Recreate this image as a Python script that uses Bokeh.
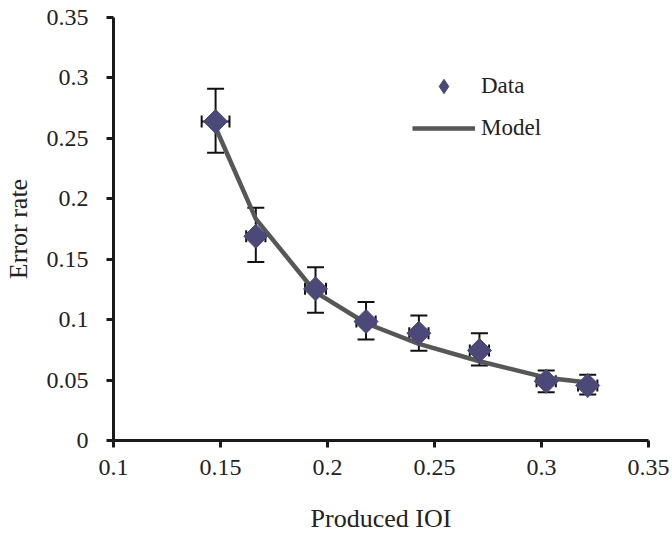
import math
from bokeh.plotting import figure
from bokeh.models import (ColumnDataSource, Range1d, FixedTicker, Whisker, TeeHead,
                          Legend, LegendItem)
from bokeh.embed import file_html
from bokeh.resources import INLINE

# data
ioi = [0.1477, 0.1665, 0.1944, 0.2180, 0.2427, 0.2710, 0.3022, 0.3216]
err = [0.264, 0.169, 0.1255, 0.0985, 0.0888, 0.0745, 0.049, 0.0455]
err_hi = [0.291, 0.1925, 0.1434, 0.1145, 0.1034, 0.0888, 0.058, 0.0544]
err_lo = [0.238, 0.1476, 0.1057, 0.0836, 0.0742, 0.062, 0.040, 0.038]
ioi_lo = [0.1412, 0.1620, 0.1895, 0.2135, 0.2382, 0.2665, 0.2977, 0.3171]
ioi_hi = [0.1542, 0.1710, 0.1993, 0.2225, 0.2472, 0.2755, 0.3067, 0.3261]
model = [0.259, 0.1834, 0.1227, 0.097, 0.080, 0.0656, 0.052, 0.048]

x_ticks = [0.1, 0.15, 0.2, 0.25, 0.3, 0.35]
x_labels = ["0.1", "0.15", "0.2", "0.25", "0.3", "0.35"]
y_ticks = [0, 0.05, 0.1, 0.15, 0.2, 0.25, 0.3, 0.35]
y_labels = ["0", "0.05", "0.1", "0.15", "0.2", "0.25", "0.3", "0.35"]

FONT = "Liberation Serif"
DIAMOND = "#4b4978"

src = ColumnDataSource(dict(x=ioi, y=err, yh=err_hi, yl=err_lo, xl=ioi_lo, xh=ioi_hi, m=model))

p = figure(width=672, height=535, output_backend="svg", toolbar_location=None,
           x_range=Range1d(0.1, 0.35), y_range=Range1d(0, 0.35),
           min_border_left=113, min_border_right=24, min_border_top=17, min_border_bottom=95)
p.outline_line_color = None
p.xgrid.grid_line_color = None
p.ygrid.grid_line_color = None
p.background_fill_color = "white"
p.border_fill_color = "white"

for ax, ticks, labels in ((p.xaxis[0], x_ticks, x_labels), (p.yaxis[0], y_ticks, y_labels)):
    ax.ticker = FixedTicker(ticks=ticks)
    ax.major_label_overrides = {t: l for t, l in zip(ticks, labels)}
    ax.axis_line_width = 3
    ax.axis_line_color = "#1a1a1a"
    ax.major_tick_line_width = 3
    ax.major_tick_line_color = "#1a1a1a"
    ax.major_tick_out = 7
    ax.major_tick_in = 0
    ax.minor_tick_line_color = None
    ax.major_label_text_font = FONT
    ax.major_label_text_font_size = "24px"
    ax.major_label_text_color = "#222222"
    ax.axis_label_text_font = FONT
    ax.axis_label_text_font_size = "26px"
    ax.axis_label_text_font_style = "normal"
    ax.axis_label_text_color = "#222222"

p.xaxis.axis_label = "Produced IOI"
p.yaxis.axis_label = "Error rate"
p.xaxis.major_label_standoff = 12
p.yaxis.major_label_standoff = 18
p.xaxis.axis_label_standoff = 26
p.yaxis.axis_label_standoff = 11

# model line
line_r = p.line("x", "m", source=src, line_color="#575757", line_width=4.5)

# error bars
p.add_layout(Whisker(source=src, base="x", upper="yh", lower="yl", dimension="height",
                     line_color="#111111", line_width=2,
                     upper_head=TeeHead(size=17, line_width=2, line_color="#111111"),
                     lower_head=TeeHead(size=17, line_width=2, line_color="#111111")))
p.add_layout(Whisker(source=src, base="y", upper="xh", lower="xl", dimension="width",
                     line_color="#111111", line_width=2,
                     upper_head=TeeHead(size=12, line_width=2, line_color="#111111"),
                     lower_head=TeeHead(size=12, line_width=2, line_color="#111111")))

# diamond key renderer (lies fully under the rotated squares; used for the legend key)
key = p.scatter("x", "y", source=src, marker="diamond", size=21,
                fill_color=DIAMOND, line_color=DIAMOND, line_width=1)

# data diamonds
pts = p.scatter("x", "y", source=src, marker="square", size=17, angle=math.pi / 4,
                fill_color=DIAMOND, line_color=DIAMOND, line_width=1)

legend = Legend(items=[LegendItem(label="Data", renderers=[key]),
                       LegendItem(label="Model", renderers=[line_r])],
                location=(299, 294), orientation="vertical",
                glyph_width=63, glyph_height=36, label_height=20,
                spacing=6, padding=0, margin=0, label_standoff=6,
                label_text_font=FONT, label_text_font_size="23px",
                label_text_color="#222222",
                border_line_color=None, background_fill_alpha=0)
p.add_layout(legend)

open("out.html", "w").write(file_html(p, INLINE))
